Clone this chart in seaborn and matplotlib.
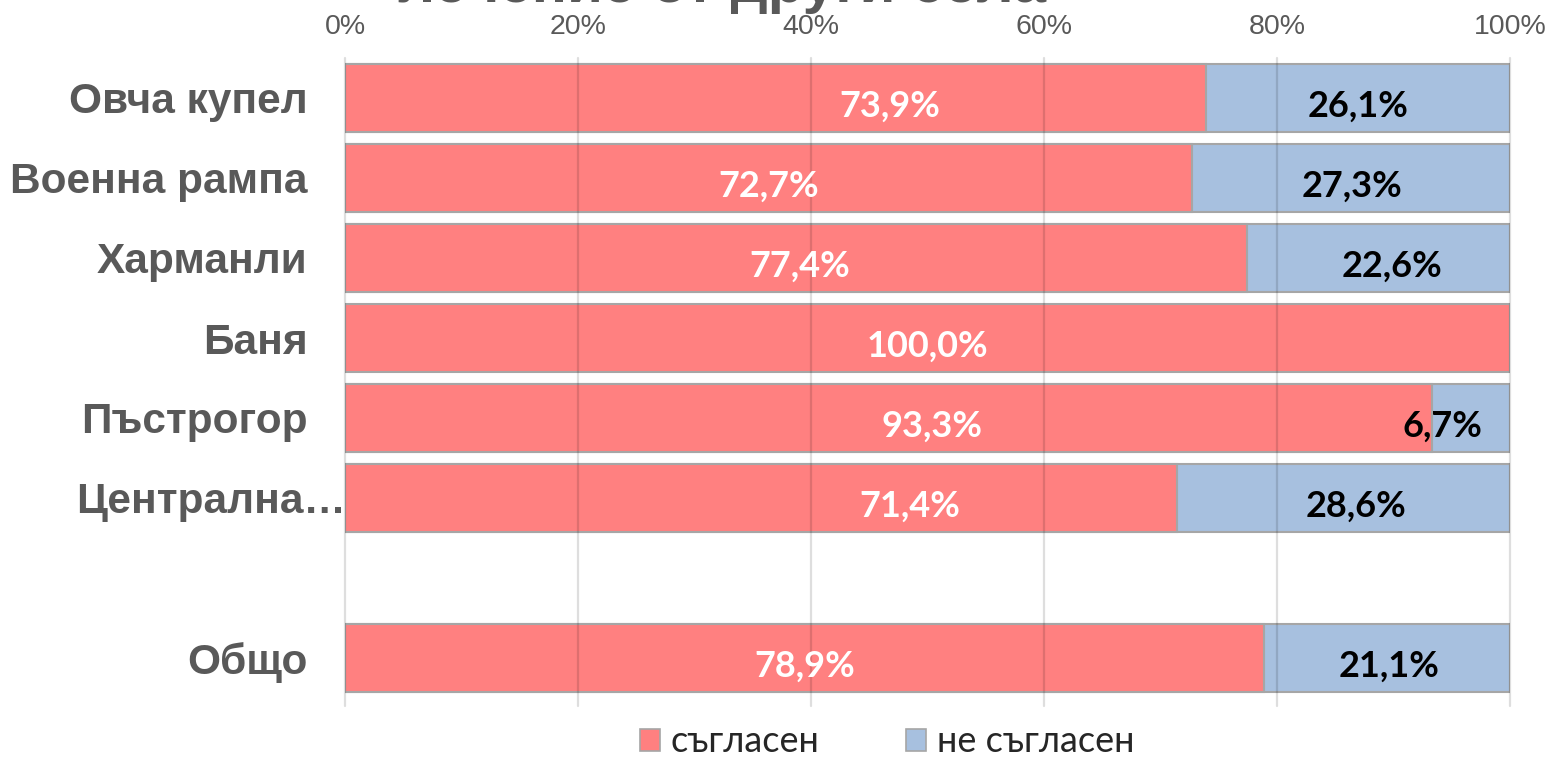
import matplotlib
matplotlib.use("Agg")
import matplotlib.pyplot as plt
from matplotlib.transforms import ScaledTranslation
from matplotlib.patches import Patch
import seaborn as sns
import pandas as pd

# Survey answers per settlement, in percent
settlements = ["Овча купел", "Военна рампа", "Харманли", "Баня", "Пъстрогор", "Централна…", "Общо"]
agree = [73.9, 72.7, 77.4, 100.0, 93.3, 71.4, 78.9]
disagree = [26.1, 27.3, 22.6, 0.0, 6.7, 28.6, 21.1]
series_names = ["съгласен", "не съгласен"]
tick_values = [0, 20, 40, 60, 80, 100]

# Row order on the axis, with an empty spacer row before the total
row_order = settlements[:-1] + [" "] + settlements[-1:]

# Where the value labels sit along the bar (percent scale)
agree_label_x = [46.8, 36.4, 39.0, 50.0, 50.4, 48.5, 39.5]
disagree_label_x = [87.0, 86.4, 89.9, None, 94.2, 86.8, 89.6]

df = pd.DataFrame({
    "place": settlements,
    "agree": agree,
    "disagree": disagree,
})
df["total"] = df["agree"] + df["disagree"]

RED = "#FF8080"
BLUE = "#A7C0DF"
EDGE = "#A6A6A6"
GREY_TEXT = "#595959"
LABEL_FONT = ["Lato", "DejaVu Sans"]

sns.set_theme(style="white")
plt.rcParams["font.family"] = ["Liberation Sans", "DejaVu Sans"]

fig = plt.figure(figsize=(15.5, 7.57), dpi=100)
ax = fig.add_axes([345 / 1550, 1 - 698 / 757, 1165 / 1550, 640 / 757])

# Stacked look: the full bar in blue, the "agree" part in red on top of it
sns.barplot(data=df[df["disagree"] > 0], x="total", y="place", order=row_order,
            color=BLUE, edgecolor=EDGE, linewidth=1.5, width=0.85,
            saturation=1, ax=ax, orient="h", zorder=2)
sns.barplot(data=df, x="agree", y="place", order=row_order,
            color=RED, edgecolor=EDGE, linewidth=1.5, width=0.85,
            saturation=1, ax=ax, orient="h", zorder=3)

ax.set_xlim(0, 100)
ax.set_ylim(len(row_order) - 0.5, -0.5)
ax.set_xlabel("")
ax.set_ylabel("")

# Percent ticks along the top
ax.xaxis.tick_top()
ax.set_xticks(tick_values)
ax.set_xticklabels([f"{v}%" for v in tick_values], fontsize=20.5, color=GREY_TEXT)
ax.tick_params(axis="x", length=0, pad=13)

# Vertical gridlines, faintly visible through the bars
for v in tick_values:
    ax.axvline(v, color="black", alpha=0.13, lw=1.6, zorder=4,
               ymin=-0.012, ymax=1.0, clip_on=False)

for s in ax.spines.values():
    s.set_visible(False)

# Category labels on the left
ax.tick_params(axis="y", length=0, pad=27)
for lbl in ax.get_yticklabels():
    lbl.set_fontsize(30.5)
    lbl.set_fontweight("bold")
    lbl.set_color(GREY_TEXT)
    if lbl.get_text().startswith("Централна"):
        lbl.set_transform(lbl.get_transform() + ScaledTranslation(38 / 100, 0, fig.dpi_scale_trans))

# Value labels
pos = {name: row_order.index(name) for name in settlements}
for name, a, d, ax_a, ax_d in zip(settlements, agree, disagree, agree_label_x, disagree_label_x):
    y = pos[name] + 0.1
    ax.text(ax_a, y, f"{a:.1f}%".replace(".", ","), ha="center", va="center",
            color="white", fontsize=26, fontweight="bold", family=LABEL_FONT, zorder=6)
    if d > 0:
        ax.text(ax_d, y, f"{d:.1f}%".replace(".", ","), ha="center", va="center",
                color="black", fontsize=26, fontweight="bold", family=LABEL_FONT, zorder=6)

# Legend below the plot
handles = [Patch(facecolor=RED, edgecolor=EDGE, lw=1.2), Patch(facecolor=BLUE, edgecolor=EDGE, lw=1.2)]
fig.legend(handles, series_names, loc="center", bbox_to_anchor=(887 / 1550, 1 - 742 / 757),
           ncol=2, frameon=False, prop={"family": LABEL_FONT, "size": 26},
           handlelength=0.55, handleheight=0.55, handletextpad=0.3, columnspacing=2.4,
           borderpad=0.1)

# Title, running off the top edge of the figure
fig.text(722 / 1550, 1 - 2 / 757, "лечение от други села", ha="center", va="baseline",
         fontsize=42, fontweight="bold", color=GREY_TEXT)

fig.savefig("out.png", dpi=100)
